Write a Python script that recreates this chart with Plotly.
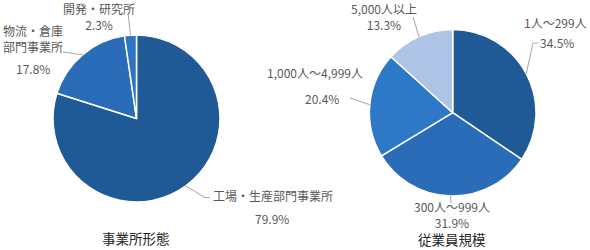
import math
import plotly.graph_objects as go

W, H = 590, 250

# 事業所形態
site_labels = ["工場・生産部門事業所", "物流・倉庫部門事業所", "開発・研究所"]
site_values = [79.9, 17.8, 2.3]
site_colors = ["#1f5a96", "#2a6cb8", "#2d74c4"]

# 従業員規模
size_labels = ["1人～299人", "300人～999人", "1,000人～4,999人", "5,000人以上"]
size_values = [34.5, 31.9, 20.4, 13.3]
size_colors = ["#1f5a96", "#2a6cb8", "#2e78c8", "#aec4e6"]

LABEL_COLOR = "#595959"
LINE_COLOR = "#a6a6a6"
FONT = "Noto Sans CJK JP"

# pie geometry in pixels: centre x, centre y, radius
left_pie = (136.5, 118.5, 83.5)
right_pie = (452.7, 112.7, 83.3)


def px(x):
    return x / W


def py(y):
    return 1 - y / H


def domain(geom):
    cx, cy, r = geom
    return dict(x=[px(cx - r), px(cx + r)], y=[py(cy + r), py(cy - r)])


def edge_points(values, geom):
    """Mid-angle point on the rim of each slice (clockwise from 12 o'clock)."""
    cx, cy, r = geom
    total = sum(values)
    pts, acc = [], 0.0
    for v in values:
        mid = (acc + v / 2) / total * 2 * math.pi
        pts.append((cx + r * math.sin(mid), cy - r * math.cos(mid)))
        acc += v
    return pts


fig = go.Figure()
for labels, values, colors, geom in [
    (site_labels, site_values, site_colors, left_pie),
    (size_labels, size_values, size_colors, right_pie),
]:
    fig.add_trace(go.Pie(
        labels=labels, values=values, sort=False, direction="clockwise",
        rotation=0, textinfo="none", hoverinfo="label+percent",
        marker=dict(colors=colors, line=dict(color="white", width=1.5)),
        domain=domain(geom), showlegend=False,
    ))

annotations = []
shapes = []


def text(t, x, y, size=12, color=LABEL_COLOR, anchor="center"):
    annotations.append(dict(
        text=t, x=px(x), y=py(y), xref="paper", yref="paper",
        xanchor=anchor, yanchor="middle", showarrow=False, borderpad=0,
        font=dict(family=FONT, size=size, color=color),
    ))


def leader(points):
    path = "M " + " L ".join(f"{px(x):.5f},{py(y):.5f}" for x, y in points)
    shapes.append(dict(type="path", path=path, xref="paper", yref="paper",
                       line=dict(color=LINE_COLOR, width=1)))


# 事業所形態 labels
se = edge_points(site_values, left_pie)
text("工場・生産部門事業所", 212, 195.5, anchor="left")
text(f"{site_values[0]}%", 272, 218)
leader([se[0], (205, 197.5), (210, 197.5)])

text("物流・倉庫<br>部門事業所", 32.5, 38)
text(f"{site_values[1]}%", 32.5, 68.5)
leader([(63, 52), se[1]])

text(f"開発・研究所<br>{site_values[2]}%", 98.5, 16)
leader([(128, 13), se[2]])

# 従業員規模 labels
ze = edge_points(size_values, right_pie)
text("1人～299人", 555, 23)
text(f"{size_values[0]}%", 557, 43)
leader([(538, 43), (533, 43), ze[0]])

text(f"300人～999人<br>{size_values[1]}%", 452, 214.5)
leader([ze[1], (451, 203)])

text("1,000人～4,999人", 315, 72)
text(f"{size_values[2]}%", 322, 98)
leader([(350, 98), ze[2]])

text(f"5,000人以上<br>{size_values[3]}%", 384, 16)
leader([(413, 17), ze[3]])

# chart captions
text("事業所形態", 136, 237.5, size=13.5, color="#262626")
text("従業員規模", 452, 239, size=13.5, color="#262626")

fig.update_layout(
    width=W, height=H,
    margin=dict(l=0, r=0, t=0, b=0),
    paper_bgcolor="white", plot_bgcolor="white",
    annotations=annotations, shapes=shapes,
    font=dict(family=FONT),
)

fig.write_html("out.html")
